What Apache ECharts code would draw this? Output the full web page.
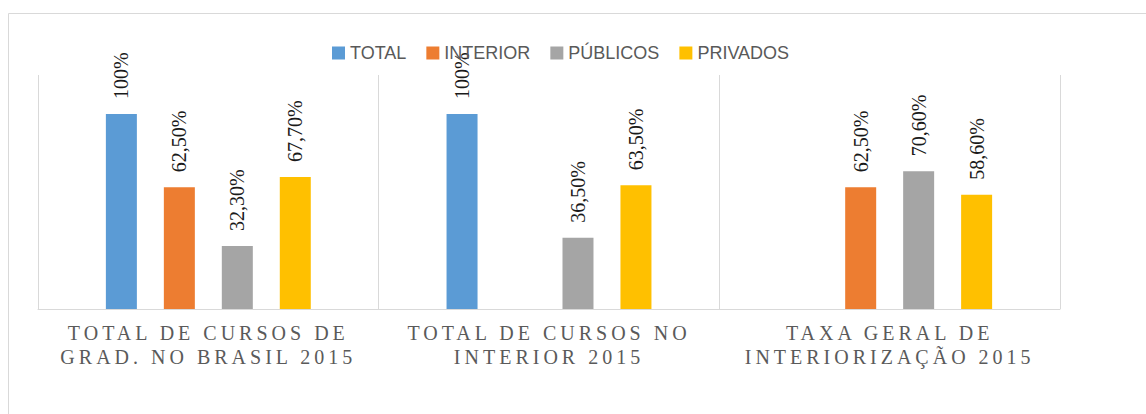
<!DOCTYPE html>
<html>
<head>
<meta charset="utf-8">
<script src="https://cdn.jsdelivr.net/npm/echarts@6/dist/echarts.min.js"></script>
<style>
	html, body { margin: 0; padding: 0; background: #fff; }
	#chart { width: 1146px; height: 414px; }
	/* category labels are letter-spaced like in the original */
	#chart text[fill="#5a5a5a"] { letter-spacing: 4px; }
</style>
</head>
<body>
<div id="chart"></div>
<script>
const categories = ['TOTAL DE CURSOS DE\nGRAD. NO BRASIL 2015', 'TOTAL DE CURSOS NO\nINTERIOR 2015', 'TAXA GERAL DE\nINTERIORIZAÇÃO 2015'];
const seriesNames = ['TOTAL', 'INTERIOR', 'PÚBLICOS', 'PRIVADOS'];
const totalValues = [100, 100, null];
const interiorValues = [62.5, null, 62.5];
const publicosValues = [32.3, 36.5, 70.6];
const privadosValues = [67.7, 63.5, 58.6];
const colors = ['#5B9BD5', '#ED7D31', '#A5A5A5', '#FFC000'];

const serifFont = 'Times New Roman, Liberation Serif, serif';

const myChart = echarts.init(document.getElementById('chart'), null, { renderer: 'svg' });

// 100% sem casas decimais, demais com virgula
const fmt = (p) => {
	const v = p.value;
	return v === 100 ? '100%' : v.toFixed(2).replace('.', ',') + '%';
};

const makeSeries = (name, data) => ({
	name: name,
	type: 'bar',
	data: data,
	barWidth: 31,
	barGap: '87%',
	label: {
		show: true,
		position: 'top',
		distance: 15,
		rotate: 90,
		align: 'left',
		verticalAlign: 'middle',
		formatter: fmt,
		fontFamily: serifFont,
		fontSize: 20,
		color: '#1a1a1a',
	},
});

const option = {
	animation: false,
	color: colors,
	graphic: [
		{
			type: 'rect',
			shape: { x: 8.5, y: 13.5, width: 1300, height: 600 },
			style: { fill: 'none', stroke: '#d9d9d9', lineWidth: 1 },
			silent: true,
		},
	],
	legend: {
		data: seriesNames,
		left: 332,
		top: 44,
		padding: 0,
		icon: 'rect',
		itemWidth: 13,
		itemHeight: 13,
		itemGap: 20,
		textStyle: {
			fontFamily: 'Liberation Sans, sans-serif',
			fontSize: 18,
			color: '#595959',
		},
	},
	grid: {
		left: 38,
		right: 86,
		top: 75,
		bottom: 105,
	},
	xAxis: {
		type: 'category',
		data: categories,
		axisLine: { lineStyle: { color: '#d9d9d9', width: 1 } },
		axisTick: { show: false },
		splitLine: { show: true, lineStyle: { color: '#d9d9d9', width: 1 } },
		axisLabel: {
			margin: 12,
			fontFamily: serifFont,
			fontSize: 20,
			lineHeight: 24,
			color: '#5a5a5a',
			interval: 0,
		},
	},
	yAxis: {
		type: 'value',
		min: 0,
		max: 120,
		show: false,
	},
	series: [
		makeSeries(seriesNames[0], totalValues),
		makeSeries(seriesNames[1], interiorValues),
		makeSeries(seriesNames[2], publicosValues),
		makeSeries(seriesNames[3], privadosValues),
	],
};

myChart.setOption(option);
</script>
</body>
</html>
